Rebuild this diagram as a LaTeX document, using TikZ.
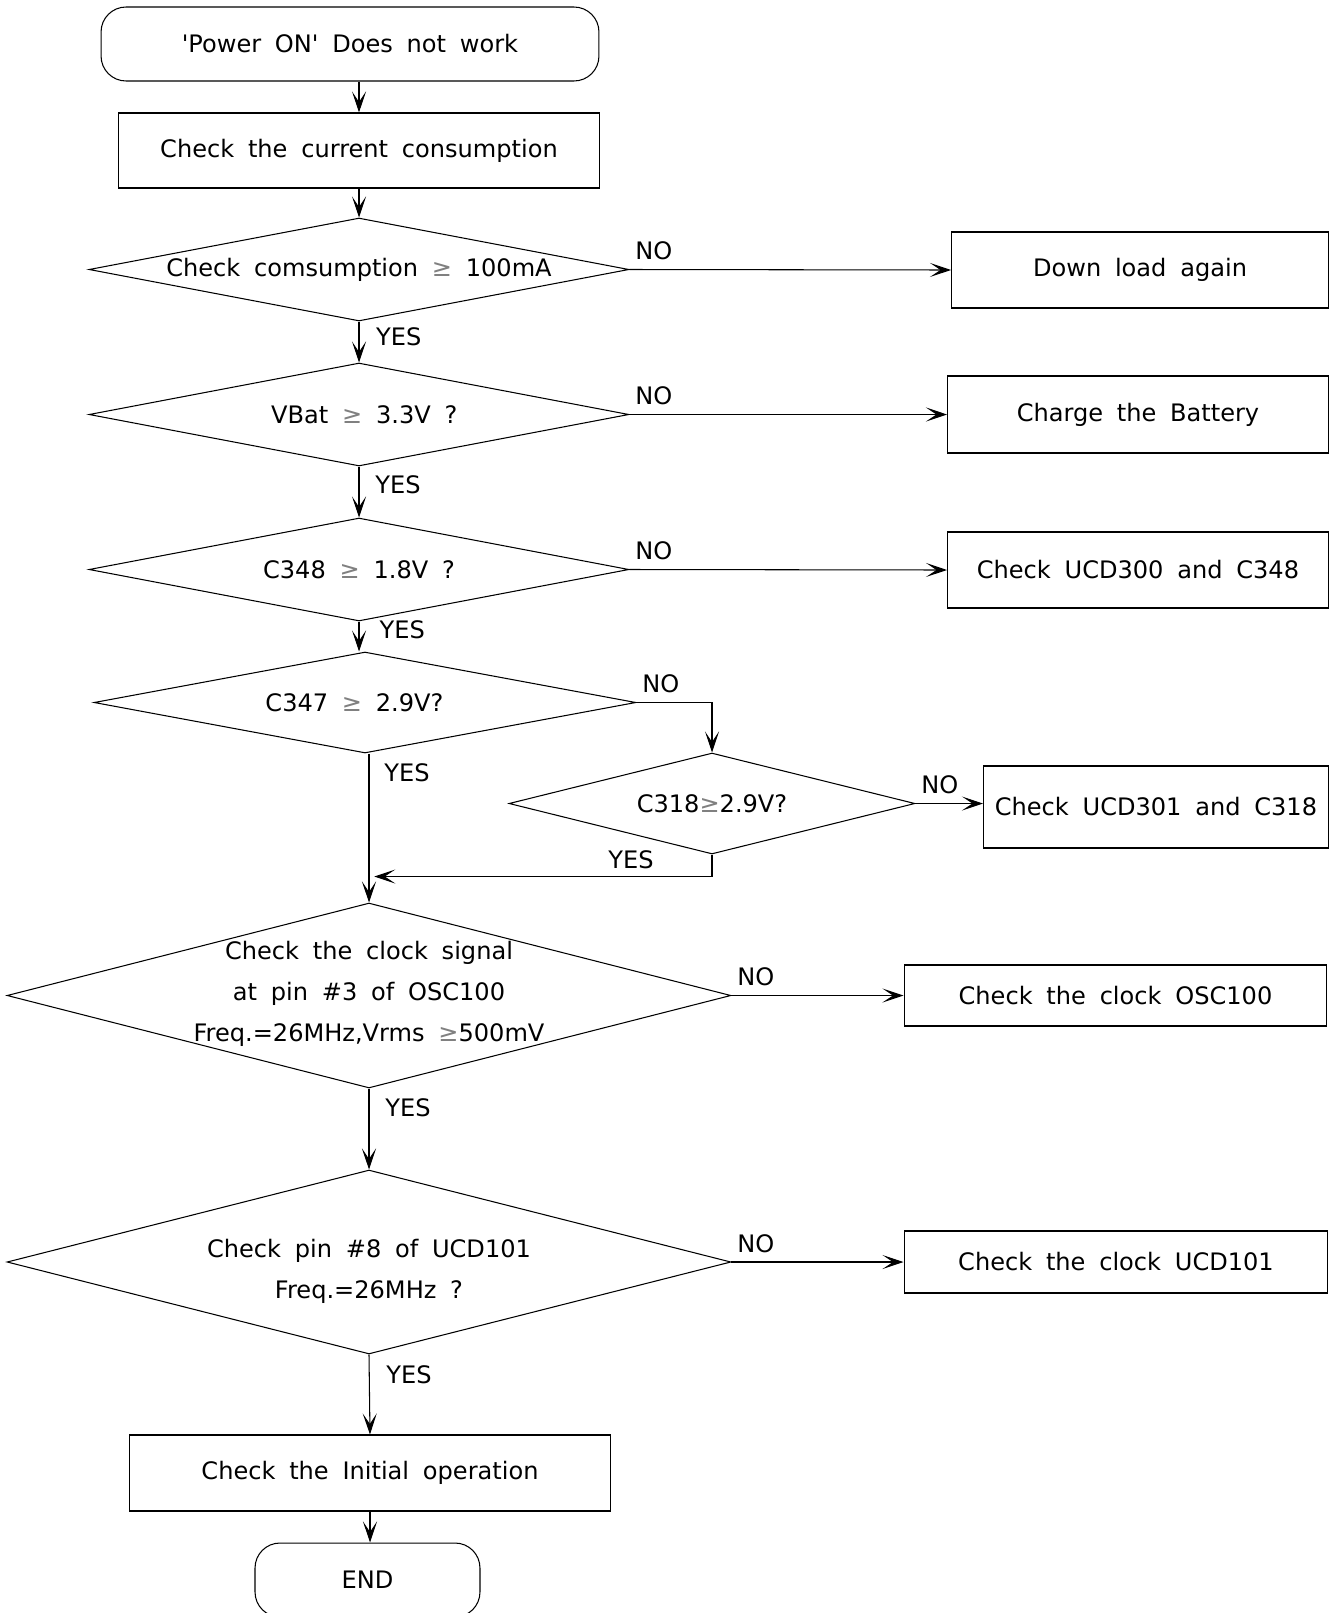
\documentclass[tikz,border=0pt]{standalone}
\usepackage{fontspec}
\setmainfont{DejaVu Sans}[WordSpace=1.8]
\usetikzlibrary{positioning,arrows.meta,shapes.geometric}
\newcommand{\flowfont}{\fontsize{13.7}{23.3}\selectfont}
\newcommand{\gesign}{{\color{black!50}≥}}
\tikzset{
  term/.style={draw,line width=0.6pt,rounded corners=0.5cm,
              align=center,font=\flowfont},
  proc/.style={draw,line width=0.6pt,align=center,font=\flowfont},
  decide/.style={draw,diamond,inner sep=0pt,line width=0.6pt},
  dtext/.style={align=center,font=\flowfont},
  flow/.style={-{Stealth[length=12pt,width=8pt,inset=6pt]},line width=0.6pt},
  yeslbl/.style={right,font=\flowfont,inner sep=0pt},
  nolbl/.style={above right,font=\flowfont,inner sep=0pt,xshift=3pt,yshift=5pt},
}

\begin{document}
\begin{tikzpicture}[x=0.02cm,y=-0.02cm]
  \useasboundingbox (0,0) rectangle (1334,1613);
  % main column
  \node[term,minimum width=9.96cm,minimum height=1.48cm] (start) at (350,44)
    {\textquotesingle Power ON\textquotesingle{} Does not work};
  \node[proc,minimum width=9.64cm,minimum height=1.5cm] (box1) at (359,150.5)
    {Check the current consumption};
  \node[decide,minimum width=10.8cm,minimum height=2.06cm,
        label={[dtext]center:{Check comsumption \gesign{} 100mA}}] (d1) at (359,269.5) {};
  \node[decide,minimum width=10.8cm,minimum height=2.06cm,
        label={[dtext,xshift=3pt]center:{VBat \gesign{} 3.3V ?}}] (d2) at (359,414.5) {};
  \node[decide,minimum width=10.8cm,minimum height=2.06cm,
        label={[dtext]center:{C348 \gesign{} 1.8V ?}}] (d3) at (359,569.5) {};
  \node[decide,minimum width=10.84cm,minimum height=2.02cm,
        label={[dtext,xshift=-6pt]center:{C347 \gesign{} 2.9V?}}] (d4) at (365,702.5) {};
  \node[decide,minimum width=8.12cm,minimum height=2.02cm,
        label={[dtext]center:{C318\gesign2.9V?}}] (c318) at (712,803.5) {};
  \node[decide,minimum width=14.48cm,minimum height=3.7cm,
        label={[dtext,yshift=1pt]center:{Check the clock signal\\at pin \#3 of OSC100\\Freq.=26MHz,Vrms \gesign500mV}}]
        (clk) at (369,995.5) {};
  \node[decide,minimum width=14.48cm,minimum height=3.68cm,
        label={[dtext,yshift=-5.5pt]center:{Check pin \#8 of UCD101\\Freq.=26MHz ?}}]
        (pin8) at (369,1262) {};
  \node[proc,minimum width=9.64cm,minimum height=1.52cm] (init) at (370,1473)
    {Check the Initial operation};
  \node[term,minimum width=4.5cm,minimum height=1.48cm] (finish) at (367.5,1580) {END};
  % right column
  \node[proc,minimum width=7.54cm,minimum height=1.52cm] (load) at (1140,270)
    {Down load again};
  \node[proc,minimum width=7.62cm,minimum height=1.54cm] (batt) at (1138,414.5)
    {Charge the Battery};
  \node[proc,minimum width=7.62cm,minimum height=1.52cm] (ucd300) at (1138,570)
    {Check UCD300 and C348};
  \node[proc,minimum width=6.9cm,minimum height=1.64cm] (ucd301) at (1156,807)
    {Check UCD301 and C318};
  \node[proc,minimum width=8.46cm,minimum height=1.22cm] (osc) at (1115.5,995.5)
    {Check the clock OSC100};
  \node[proc,minimum width=8.48cm,minimum height=1.24cm] (ucd101) at (1116,1262)
    {Check the clock UCD101};
  \coordinate (merge) at ([yshift=0.52cm]clk.north);

  \draw[flow] (box1.north |- start.south) -- (box1.north);
  \draw[flow] (box1.south) -- (d1.north);
  \draw[flow] (d1.south) -- node[yeslbl,pos=0.38,xshift=9.5pt] {YES} (d2.north);
  \draw[flow] (d2.south) -- node[yeslbl,pos=0.35,xshift=9pt] {YES} (d3.north);
  \draw[flow] (d3.south) -- node[yeslbl,pos=0.29,xshift=11.5pt] {YES} (d3.south |- d4.north);
  \draw[flow] (clk.north |- d4.south) -- node[yeslbl,pos=0.13,xshift=8.5pt] {YES} (clk.north);
  \draw[flow] (clk.south) -- node[yeslbl,pos=0.24,xshift=9pt] {YES} (pin8.north);
  \draw[flow] (pin8.south) -- node[yeslbl,pos=0.25,xshift=9.5pt] {YES} (init.north);
  \draw[flow] (init.south) -- (init.south |- finish.north);

  \draw[flow] (d1.east) -- node[nolbl,pos=0] {NO} (load.west);
  \draw[flow] (d2.east) -- node[nolbl,pos=0] {NO} (batt.west);
  \draw[flow] (d3.east) -- node[nolbl,pos=0] {NO} (ucd300.west);
  \draw[flow] (d4.east) -| node[nolbl,pos=0] {NO} (c318.north);
  \draw[flow] (c318.east) -- node[nolbl,pos=0] {NO} (c318.east -| ucd301.west);
  \draw[flow] (c318.south) |- node[pos=0.62,above,font=\flowfont,inner sep=0pt,yshift=4pt] {YES}
    ([xshift=3pt]merge);
  \draw[flow] (clk.east) -- node[nolbl,pos=0] {NO} (osc.west);
  \draw[flow] (pin8.east) -- node[nolbl,pos=0] {NO} (ucd101.west);
\end{tikzpicture}
\end{document}
